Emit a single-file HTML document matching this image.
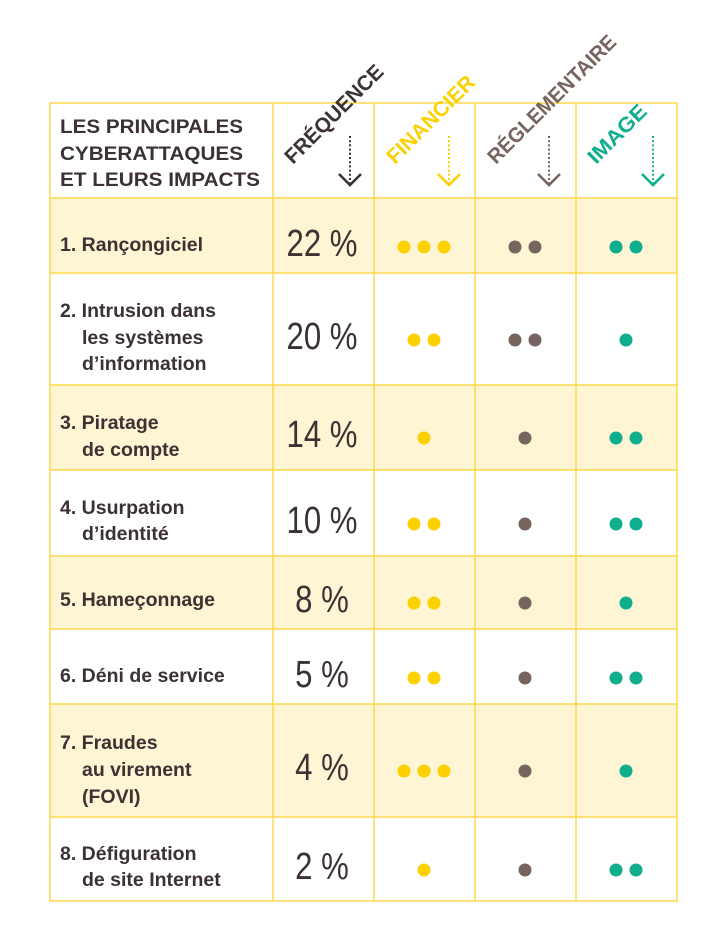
<!DOCTYPE html>
<html><head><meta charset="utf-8"><style>
html,body{margin:0;padding:0;background:#fff;width:724px;height:942px;overflow:hidden}
svg{display:block}
.lb{font-family:"Liberation Sans",sans-serif;font-weight:bold;font-size:19.5px;fill:#3d3233}
.pc{font-family:"Liberation Sans",sans-serif;font-size:38px;fill:#3d3233}
.hd{font-family:"Liberation Sans",sans-serif;font-weight:bold;font-size:19px}
.rh{font-family:"Liberation Sans",sans-serif;font-weight:bold;font-size:21px}
</style></head><body>
<svg width="724" height="942" viewBox="0 0 724 942">
<g fill="#fdf5d3">
<rect x="50" y="198" width="627" height="75"/>
<rect x="50" y="385" width="627" height="85"/>
<rect x="50" y="556" width="627" height="73"/>
<rect x="50" y="704" width="627" height="113"/>
</g>
<g stroke="#fbd84a" stroke-width="1.5" fill="none">
<rect x="50" y="103" width="627" height="798"/>
<line x1="273" y1="103" x2="273" y2="901"/>
<line x1="374" y1="103" x2="374" y2="901"/>
<line x1="475" y1="103" x2="475" y2="901"/>
<line x1="576" y1="103" x2="576" y2="901"/>
<line x1="50" y1="198" x2="677" y2="198"/>
<line x1="50" y1="273" x2="677" y2="273"/>
<line x1="50" y1="385" x2="677" y2="385"/>
<line x1="50" y1="470" x2="677" y2="470"/>
<line x1="50" y1="556" x2="677" y2="556"/>
<line x1="50" y1="629" x2="677" y2="629"/>
<line x1="50" y1="704" x2="677" y2="704"/>
<line x1="50" y1="817" x2="677" y2="817"/>
</g>
<rect x="273" y="0" width="405" height="102" fill="#fff"/>
<text class="hd" fill="#3d3233" x="60" y="133" textLength="183" lengthAdjust="spacingAndGlyphs">LES PRINCIPALES</text>
<text class="hd" fill="#3d3233" x="60" y="160" textLength="183" lengthAdjust="spacingAndGlyphs">CYBERATTAQUES</text>
<text class="hd" fill="#3d3233" x="60" y="186" textLength="200" lengthAdjust="spacingAndGlyphs">ET LEURS IMPACTS</text>
<text class="rh" fill="#3d3233" transform="translate(293,165) rotate(-45)" textLength="130" lengthAdjust="spacingAndGlyphs">FRÉQUENCE</text>
<text class="rh" fill="#fdd000" transform="translate(395,165) rotate(-45)" textLength="115" lengthAdjust="spacingAndGlyphs">FINANCIER</text>
<text class="rh" fill="#76655e" transform="translate(496,165) rotate(-45)" textLength="172" lengthAdjust="spacingAndGlyphs">RÉGLEMENTAIRE</text>
<text class="rh" fill="#0fae8c" transform="translate(596,165) rotate(-45)" textLength="74" lengthAdjust="spacingAndGlyphs">IMAGE</text>
<g fill="none" stroke-width="2">
<g stroke="#3d3233"><line x1="350" y1="136" x2="350" y2="184" stroke-dasharray="2 2.2"/><polyline points="339,174 350,185 361,174" stroke-width="2.6"/></g>
<g stroke="#fdd000"><line x1="449" y1="136" x2="449" y2="184" stroke-dasharray="2 2.2"/><polyline points="438,174 449,185 460,174" stroke-width="2.6"/></g>
<g stroke="#76655e"><line x1="549" y1="136" x2="549" y2="184" stroke-dasharray="2 2.2"/><polyline points="538,174 549,185 560,174" stroke-width="2.6"/></g>
<g stroke="#0fae8c"><line x1="653" y1="136" x2="653" y2="184" stroke-dasharray="2 2.2"/><polyline points="642,174 653,185 664,174" stroke-width="2.6"/></g>
</g>
<text class="lb" x="60" y="251">1. Rançongiciel</text>
<text class="lb" x="60" y="317">2. Intrusion dans</text>
<text class="lb" x="82" y="344">les systèmes</text>
<text class="lb" x="82" y="370">d’information</text>
<text class="lb" x="60" y="429">3. Piratage</text>
<text class="lb" x="82" y="456">de compte</text>
<text class="lb" x="60" y="514">4. Usurpation</text>
<text class="lb" x="82" y="540">d’identité</text>
<text class="lb" x="60" y="606">5. Hameçonnage</text>
<text class="lb" x="60" y="682">6. Déni de service</text>
<text class="lb" x="60" y="749">7. Fraudes</text>
<text class="lb" x="82" y="776">au virement</text>
<text class="lb" x="82" y="803">(FOVI)</text>
<text class="lb" x="60" y="860">8. Défiguration</text>
<text class="lb" x="82" y="886">de site Internet</text>
<g text-anchor="middle">
<text class="pc" transform="translate(322,256) scale(0.82,1)">22 %</text>
<text class="pc" transform="translate(322,349) scale(0.82,1)">20 %</text>
<text class="pc" transform="translate(322,447) scale(0.82,1)">14 %</text>
<text class="pc" transform="translate(322,533) scale(0.82,1)">10 %</text>
<text class="pc" transform="translate(322,612) scale(0.82,1)">8 %</text>
<text class="pc" transform="translate(322,687) scale(0.82,1)">5 %</text>
<text class="pc" transform="translate(322,780) scale(0.82,1)">4 %</text>
<text class="pc" transform="translate(322,879) scale(0.82,1)">2 %</text>
</g>
<g fill="#fdd000">
<circle cx="404" cy="247" r="6.5"/><circle cx="424" cy="247" r="6.5"/><circle cx="444" cy="247" r="6.5"/>
<circle cx="414" cy="340" r="6.5"/><circle cx="434" cy="340" r="6.5"/>
<circle cx="424" cy="438" r="6.5"/>
<circle cx="414" cy="524" r="6.5"/><circle cx="434" cy="524" r="6.5"/>
<circle cx="414" cy="603" r="6.5"/><circle cx="434" cy="603" r="6.5"/>
<circle cx="414" cy="678" r="6.5"/><circle cx="434" cy="678" r="6.5"/>
<circle cx="404" cy="771" r="6.5"/><circle cx="424" cy="771" r="6.5"/><circle cx="444" cy="771" r="6.5"/>
<circle cx="424" cy="870" r="6.5"/>
</g>
<g fill="#76655e">
<circle cx="515" cy="247" r="6.5"/><circle cx="535" cy="247" r="6.5"/>
<circle cx="515" cy="340" r="6.5"/><circle cx="535" cy="340" r="6.5"/>
<circle cx="525" cy="438" r="6.5"/>
<circle cx="525" cy="524" r="6.5"/>
<circle cx="525" cy="603" r="6.5"/>
<circle cx="525" cy="678" r="6.5"/>
<circle cx="525" cy="771" r="6.5"/>
<circle cx="525" cy="870" r="6.5"/>
</g>
<g fill="#0fae8c">
<circle cx="616" cy="247" r="6.5"/><circle cx="636" cy="247" r="6.5"/>
<circle cx="626" cy="340" r="6.5"/>
<circle cx="616" cy="438" r="6.5"/><circle cx="636" cy="438" r="6.5"/>
<circle cx="616" cy="524" r="6.5"/><circle cx="636" cy="524" r="6.5"/>
<circle cx="626" cy="603" r="6.5"/>
<circle cx="616" cy="678" r="6.5"/><circle cx="636" cy="678" r="6.5"/>
<circle cx="626" cy="771" r="6.5"/>
<circle cx="616" cy="870" r="6.5"/><circle cx="636" cy="870" r="6.5"/>
</g>
</svg>
</body></html>
